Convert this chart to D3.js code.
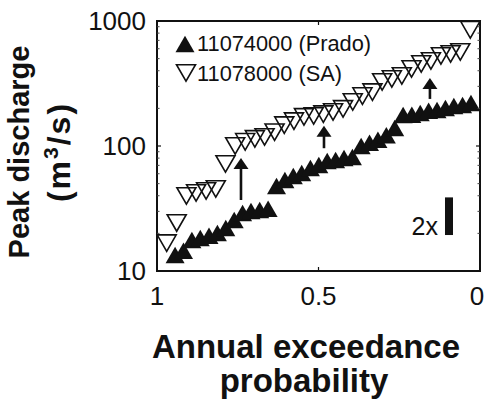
<!DOCTYPE html>
<html>
<head>
<meta charset="utf-8">
<script src="https://cdn.jsdelivr.net/npm/d3@7"></script>
<style>
  body { margin: 0; background: #fff; }
  text { font-family: "Liberation Sans", Arial, Helvetica, sans-serif; fill: #111; }
</style>
</head>
<body>
<svg id="chart" width="485" height="403"></svg>
<script>
// Ranked annual peak discharges (m^3/s) with their exceedance probabilities
const pradoProb = [0.944, 0.918, 0.892, 0.866, 0.839, 0.813, 0.787, 0.761, 0.735, 0.709,
                   0.682, 0.656, 0.630, 0.604, 0.578, 0.552, 0.525, 0.499, 0.473, 0.447,
                   0.421, 0.395, 0.368, 0.342, 0.316, 0.290, 0.264, 0.238, 0.211, 0.185,
                   0.159, 0.133, 0.107, 0.081, 0.054, 0.028];
const pradoPeak = [13.4, 14.5, 17.7, 18.4, 19.1, 20.1, 22.1, 25.6, 29.1, 30.2,
                   30.8, 31.5, 47.9, 53.5, 57.5, 60.8, 66.7, 70.5, 75.9, 77.3,
                   80.2, 81.5, 100, 106, 112, 122, 139, 177, 178, 184,
                   191, 194, 201, 209, 213, 221];

const saProb = [0.970, 0.939, 0.909, 0.879, 0.848, 0.818, 0.788, 0.758, 0.727, 0.697,
                0.667, 0.636, 0.606, 0.576, 0.545, 0.515, 0.485, 0.455, 0.424, 0.394,
                0.364, 0.333, 0.303, 0.273, 0.242, 0.212, 0.182, 0.152, 0.121, 0.091,
                0.061, 0.030];
const saPeak = [16.7, 24.2, 39.8, 42.1, 43.7, 45.3, 71.8, 100, 108, 114,
                118, 129, 147, 158, 171, 174, 180, 187, 198, 225,
                251, 270, 325, 344, 363, 413, 453, 479, 525, 545,
                565, 850];

const seriesNames = ["11074000 (Prado)", "11078000 (SA)"];

const xTicks = [1, 0.5, 0];
const xTickLabels = ["1", "0.5", "0"];
const yTicks = [10, 100, 1000];
const yTickLabels = ["10", "100", "1000"];

// Upward arrows: position (probability), tail and head discharge
const arrowProb = [0.740, 0.483, 0.155];
const arrowFrom = [37, 96, 238];
const arrowTo   = [80, 145, 350];

// Factor-of-two scale bar
const barProb = 0.096;
const barLow = 19.4;
const barFactor = 2;
const barLabel = "2x";

const svg = d3.select("#chart");
const plotLeft = 157, plotRight = 480, plotTop = 21, plotBottom = 271;

const x = d3.scaleLinear().domain([1, 0]).range([plotLeft, plotRight]);
const y = d3.scaleLog().domain([10, 1000]).range([plotBottom, plotTop]);

const W = 19, H = 16.5;
const upTri = `M0,${-H/2}L${W/2},${H/2}L${-W/2},${H/2}Z`;
const downTri = `M${-W/2},${-H/2}L${W/2},${-H/2}L0,${H/2}Z`;

// Prado: filled upward triangles
svg.append("g").selectAll("path")
  .data(d3.zip(pradoProb, pradoPeak))
  .join("path")
  .attr("d", upTri)
  .attr("transform", d => `translate(${x(d[0])},${y(d[1])})`)
  .attr("fill", "#111");

// Santa Ana: open downward triangles
svg.append("g").selectAll("path")
  .data(d3.zip(saProb, saPeak))
  .join("path")
  .attr("d", downTri)
  .attr("transform", d => `translate(${x(d[0])},${y(d[1])})`)
  .attr("fill", "none")
  .attr("stroke", "#111")
  .attr("stroke-width", 1.6);

// Arrows
const arrows = svg.append("g");
d3.zip(arrowProb, arrowFrom, arrowTo).forEach(([p, a, b]) => {
  const ax = x(p), y0 = y(a), y1 = y(b);
  arrows.append("line")
    .attr("x1", ax).attr("x2", ax)
    .attr("y1", y0).attr("y2", y1 + 8)
    .attr("stroke", "#111").attr("stroke-width", 2.6);
  arrows.append("path")
    .attr("d", `M${ax},${y1}L${ax + 7.5},${y1 + 11}L${ax - 7.5},${y1 + 11}Z`)
    .attr("fill", "#111");
});

// Scale bar
svg.append("rect")
  .attr("x", x(barProb) - 4)
  .attr("width", 8)
  .attr("y", y(barLow * barFactor))
  .attr("height", y(barLow) - y(barLow * barFactor))
  .attr("fill", "#111");
svg.append("text")
  .attr("x", x(barProb) - 11)
  .attr("y", y(barLow))
  .attr("text-anchor", "end")
  .attr("font-size", 25)
  .text(barLabel);

// Axes box and ticks
const axes = svg.append("g");
axes.append("rect")
  .attr("x", plotLeft).attr("y", plotTop)
  .attr("width", plotRight - plotLeft).attr("height", plotBottom - plotTop)
  .attr("fill", "none").attr("stroke", "#111").attr("stroke-width", 2);

const minor = [];
[10, 100].forEach(d => { for (let k = 2; k <= 9; k++) minor.push(d * k); });

xTicks.forEach(t => {
  axes.append("line").attr("x1", x(t)).attr("x2", x(t)).attr("y1", plotBottom).attr("y2", plotBottom - 4)
    .attr("stroke", "#111").attr("stroke-width", 1.2);
  axes.append("line").attr("x1", x(t)).attr("x2", x(t)).attr("y1", plotTop).attr("y2", plotTop + 4)
    .attr("stroke", "#111").attr("stroke-width", 1.2);
});
yTicks.forEach(t => {
  axes.append("line").attr("x1", plotLeft).attr("x2", plotLeft + 4).attr("y1", y(t)).attr("y2", y(t))
    .attr("stroke", "#111").attr("stroke-width", 1.2);
  axes.append("line").attr("x1", plotRight).attr("x2", plotRight - 4).attr("y1", y(t)).attr("y2", y(t))
    .attr("stroke", "#111").attr("stroke-width", 1.2);
});
minor.forEach(t => {
  axes.append("line").attr("x1", plotLeft).attr("x2", plotLeft + 2.5).attr("y1", y(t)).attr("y2", y(t))
    .attr("stroke", "#444").attr("stroke-width", 1);
  axes.append("line").attr("x1", plotRight).attr("x2", plotRight - 2.5).attr("y1", y(t)).attr("y2", y(t))
    .attr("stroke", "#444").attr("stroke-width", 1);
});

// Tick labels
xTicks.forEach((t, i) => {
  svg.append("text").attr("x", Math.min(x(t), 477)).attr("y", 305)
    .attr("text-anchor", "middle").attr("font-size", 26).text(xTickLabels[i]);
});
yTicks.forEach((t, i) => {
  svg.append("text").attr("x", 146).attr("y", y(t) + 9)
    .attr("text-anchor", "end").attr("font-size", 26).text(yTickLabels[i]);
});

// Legend
const legend = svg.append("g");
legend.append("path").attr("d", upTri).attr("transform", "translate(185,44)").attr("fill", "#111");
legend.append("path").attr("d", downTri).attr("transform", "translate(186,73)")
  .attr("fill", "none").attr("stroke", "#111").attr("stroke-width", 1.6);
legend.append("text").attr("x", 197).attr("y", 51).attr("font-size", 21.8).text(seriesNames[0]);
legend.append("text").attr("x", 197).attr("y", 81).attr("font-size", 21.8).text(seriesNames[1]);

// Axis titles
svg.append("text")
  .attr("transform", "translate(29,152) rotate(-90)")
  .attr("text-anchor", "middle").attr("font-size", 29).attr("font-weight", "bold")
  .text("Peak discharge");
const yUnit = svg.append("text")
  .attr("transform", "translate(70,152) rotate(-90)")
  .attr("text-anchor", "middle").attr("font-size", 32).attr("font-weight", "bold")
  .attr("letter-spacing", 2);
yUnit.append("tspan").text("(m");
yUnit.append("tspan").attr("font-size", 21).attr("dy", -12).text("3");
yUnit.append("tspan").attr("dy", 12).text("/s)");

svg.append("text").attr("x", 306).attr("y", 358)
  .attr("text-anchor", "middle").attr("font-size", 33).attr("font-weight", "bold")
  .text("Annual exceedance");
svg.append("text").attr("x", 304).attr("y", 392)
  .attr("text-anchor", "middle").attr("font-size", 33).attr("font-weight", "bold")
  .text("probability");
</script>
</body>
</html>
